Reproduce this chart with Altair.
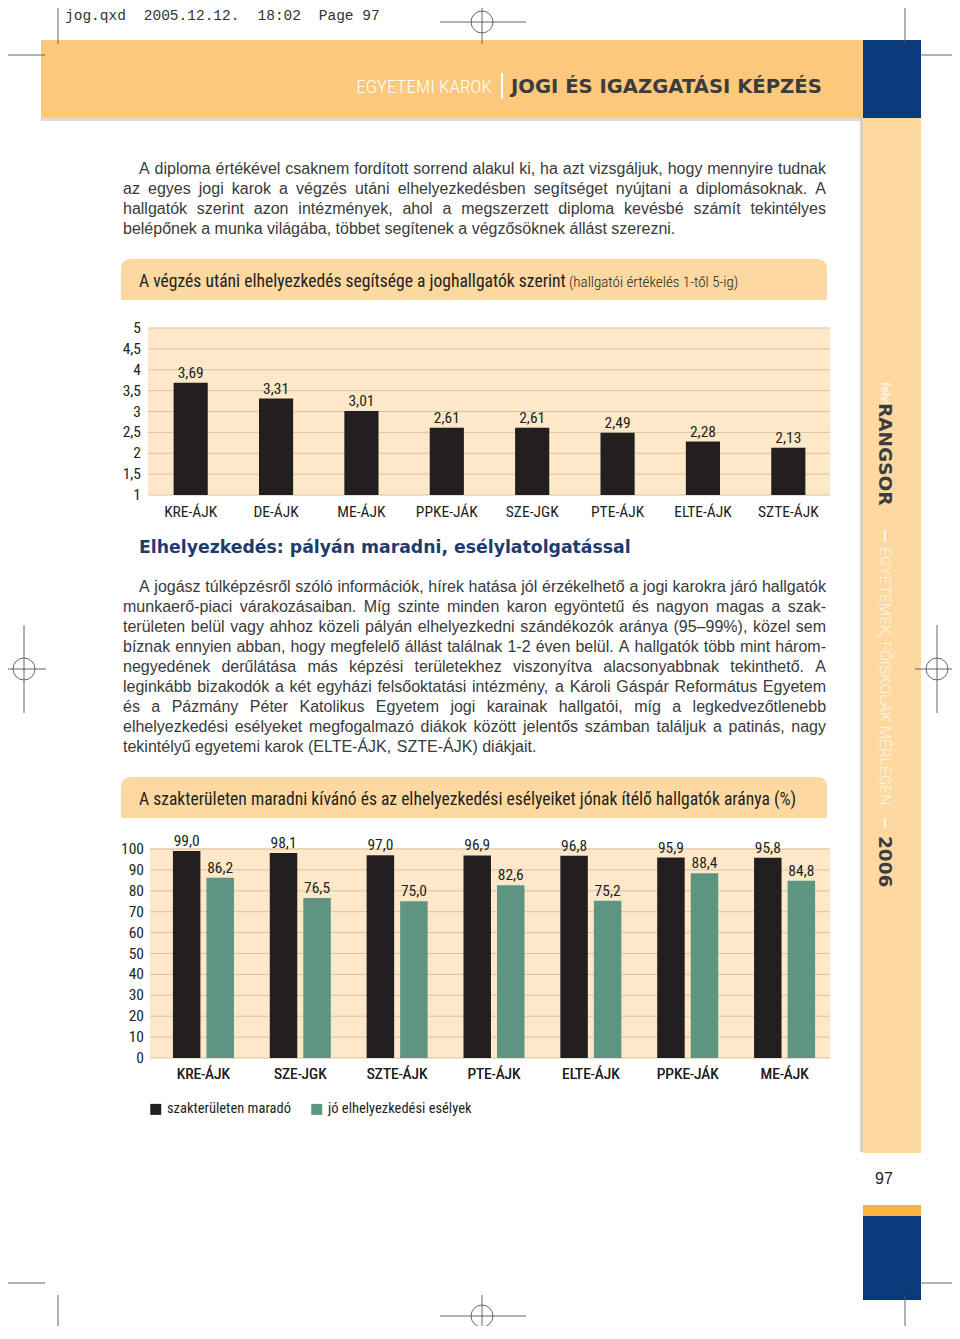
import altair as alt
import pandas as pd

# ---------------- values read from the page ----------------
chart1_schools = ["KRE-ÁJK", "DE-ÁJK", "ME-ÁJK", "PPKE-JÁK", "SZE-JGK", "PTE-ÁJK", "ELTE-ÁJK", "SZTE-ÁJK"]
chart1_values = [3.69, 3.31, 3.01, 2.61, 2.61, 2.49, 2.28, 2.13]
chart1_ticks = [1, 1.5, 2, 2.5, 3, 3.5, 4, 4.5, 5]

chart2_schools = ["KRE-ÁJK", "SZE-JGK", "SZTE-ÁJK", "PTE-ÁJK", "ELTE-ÁJK", "PPKE-JÁK", "ME-ÁJK"]
chart2_stay = [99.0, 98.1, 97.0, 96.9, 96.8, 95.9, 95.8]
chart2_chances = [86.2, 76.5, 75.0, 82.6, 75.2, 88.4, 84.8]
chart2_series = ["szakterületen maradó", "jó elhelyezkedési esélyek"]
chart2_ticks = [0, 10, 20, 30, 40, 50, 60, 70, 80, 90, 100]

slug_parts = ["jog.qxd", "2005.12.12.", "18:02", "Page 97"]
header_left = "EGYETEMI KAROK"
header_right = "JOGI ÉS IGAZGATÁSI KÉPZÉS"
side_parts = ["felvi", "RANGSOR", "EGYETEMEK, FŐISKOLÁK MÉRLEGEN", "2006"]
page_number = "97"
title1_main = "A végzés utáni elhelyezkedés segítsége a joghallgatók szerint"
title1_note = "(hallgatói értékelés 1-től 5-ig)"
title2 = "A szakterületen maradni kívánó és az elhelyezkedési esélyeiket jónak ítélő hallgatók aránya (%)"
subtitle = "Elhelyezkedés: pályán maradni, esélylatolgatással"
para1 = [
    "A diploma értékével csaknem fordított sorrend alakul ki, ha azt vizsgáljuk, hogy mennyire tudnak",
    "az egyes jogi karok a végzés utáni elhelyezkedésben segítséget nyújtani a diplomásoknak. A",
    "hallgatók szerint azon intézmények, ahol a megszerzett diploma kevésbé számít tekintélyes",
    "belépőnek a munka világába, többet segítenek a végzősöknek állást szerezni.",
]
para2 = [
    "A jogász túlképzésről szóló információk, hírek hatása jól érzékelhető a jogi karokra járó hallgatók",
    "munkaerő-piaci várakozásaiban. Míg szinte minden karon egyöntetű és nagyon magas a szak-",
    "területen belül vagy ahhoz közeli pályán elhelyezkedni szándékozók aránya (95–99%), közel sem",
    "bíznak ennyien abban, hogy megfelelő állást találnak 1-2 éven belül. A hallgatók több mint három-",
    "negyedének derűlátása más képzési területekhez viszonyítva alacsonyabbnak tekinthető. A",
    "leginkább bizakodók a két egyházi felsőoktatási intézmény, a Károli Gáspár Református Egyetem",
    "és a Pázmány Péter Katolikus Egyetem jogi karainak hallgatói, míg a legkedvezőtlenebb",
    "elhelyezkedési esélyeket megfogalmazó diákok között jelentős számban találjuk a patinás, nagy",
    "tekintélyű egyetemi karok (ELTE-ÁJK, SZTE-ÁJK) diákjait.",
]

# ---------------- styles ----------------
W, H = 944, 1318
COND = "Roboto Condensed, Liberation Sans Narrow, Roboto, sans-serif"
SANS = "Liberation Sans, Arial, sans-serif"
WIDE = "DejaVu Sans, Verdana, sans-serif"
MONO = "Liberation Mono, Courier New, monospace"
LIGHT = "Roboto, Liberation Sans, sans-serif"
INK = "#231F20"
GRID = "#D8C3A0"
PLOT_BG = "#FDE9C9"
BAND = "#FCC87B"
SIDE = "#FDD9A1"
BLUE = "#0B3A7B"
GREEN = "#5E9482"
BOX = "#FDD8A1"
LBL = 15.5


def P(v):
    return v - 8


# Arial / Liberation Sans advance widths (1/1000 em) for justified text
AW = {" ": 278, ",": 278, ".": 278, "-": 333, "(": 333, ")": 333, "%": 889, "–": 556, ":": 278,
      "f": 278, "i": 222, "j": 222, "l": 222, "r": 333, "t": 278, "c": 500, "k": 500, "s": 500,
      "v": 500, "x": 500, "y": 500, "z": 500, "m": 833, "w": 722, "í": 278,
      "A": 667, "Á": 667, "B": 667, "C": 722, "D": 722, "E": 667, "É": 667, "F": 611, "G": 778,
      "H": 722, "I": 278, "J": 500, "K": 667, "L": 556, "M": 833, "N": 722, "O": 778, "P": 667,
      "R": 722, "S": 667, "T": 611, "U": 722, "V": 667, "Z": 611}


def tw(s, fs):
    return sum(AW.get(ch, 556) for ch in s) * fs / 1000.0


def justified(lines, x_first, x_left, x_right, base0, lh, fs):
    rows = []
    for i, line in enumerate(lines):
        words = line.split(" ")
        xs = x_first if i == 0 else x_left
        widths = [tw(w, fs) for w in words]
        if i == len(lines) - 1 or len(words) < 2:
            gap = tw(" ", fs)
        else:
            gap = (x_right - xs - sum(widths)) / (len(words) - 1)
        x = xs
        for w, wd in zip(words, widths):
            rows.append((x, base0 + i * lh, w))
            x += wd + gap
    return rows


def rect_layer(rows, **kw):
    df = pd.DataFrame(rows, columns=["x0", "y0", "x1", "y1", "c"])
    for c in ["x0", "y0", "x1", "y1"]:
        df[c] = df[c] - 8
    return alt.Chart(df).mark_rect(**kw).encode(
        x=alt.X("x0:Q", scale=None, axis=None), x2="x1:Q",
        y=alt.Y("y0:Q", scale=None, axis=None), y2="y1:Q",
        fill=alt.Fill("c:N", scale=None))


def rule_layer(rows, color, width=1.0):
    df = pd.DataFrame(rows, columns=["x0", "y0", "x1", "y1"]) - 8
    return alt.Chart(df).mark_rule(color=color, strokeWidth=width).encode(
        x=alt.X("x0:Q", scale=None, axis=None), x2="x1:Q",
        y=alt.Y("y0:Q", scale=None, axis=None), y2="y1:Q")


def text_layer(rows, **kw):
    df = pd.DataFrame(rows, columns=["x", "y", "t"])
    df["x"] = df["x"] - 8
    df["y"] = df["y"] - 8
    return alt.Chart(df).mark_text(**kw).encode(
        x=alt.X("x:Q", scale=None, axis=None),
        y=alt.Y("y:Q", scale=None, axis=None), text="t:N")


# ---------------- page decoration ----------------
rects = rect_layer([
    (41, 118, 862, 121, "#E2DAD0"),      # header shadow
    (41, 40, 863, 118, BAND),            # header band
    (863, 40, 921, 118, BLUE),           # sidebar top block
    (860, 118, 863, 1152, "#D9D1C4"),    # sidebar shadow
    (863, 118, 921, 1153, SIDE),         # sidebar
    (863, 1205, 921, 1216, "#F8B240"),   # orange strip
    (863, 1216, 921, 1300, BLUE),        # sidebar bottom block
    (148, 328, 830, 495, PLOT_BG),       # chart 1 plot area
    (150, 848, 830, 1058, PLOT_BG),      # chart 2 plot area
    (501, 73, 503, 99, "#FFFFFF"),       # header divider
])
boxes = rect_layer([
    (121, 259, 827, 300, BOX),
    (121, 777, 827, 818, BOX),
], cornerRadiusTopLeft=9, cornerRadiusTopRight=9)

crop = rule_layer([
    (58, 0, 58, 44), (905, 0, 905, 44), (0, 55, 45, 55), (920, 55, 960, 55),
    (440, 22, 526, 22), (482, 0, 482, 44),
    (0, 669, 46, 669), (24, 625, 24, 713), (915, 669, 960, 669), (937, 625, 937, 713),
    (58, 1295, 58, 1339), (905, 1295, 905, 1339), (0, 1283, 45, 1283), (920, 1283, 960, 1283),
    (440, 1316, 526, 1316), (482, 1295, 482, 1339),
], "#555555", 0.9)
marks_df = pd.DataFrame({"x": [P(482), P(24), P(937), P(482)], "y": [P(22), P(669), P(669), P(1316)]})
circles = alt.Chart(marks_df).mark_point(shape="circle", filled=False, size=480, color="#555555",
                                         strokeWidth=0.9, opacity=1).encode(
    x=alt.X("x:Q", scale=None, axis=None), y=alt.Y("y:Q", scale=None, axis=None))

side_bars = rule_layer([(885, 530, 885, 542), (885, 818, 885, 828)], "#FFFFFF", 1.5)

slug = text_layer([(65, 20, slug_parts[0]), (65 + 9 * 8.75, 20, slug_parts[1]),
                   (65 + 22 * 8.75, 20, slug_parts[2]), (65 + 29 * 8.75, 20, slug_parts[3])],
                  font=MONO, fontSize=14.5, color="#333333", align="left", baseline="alphabetic")
head_l = text_layer([(492, 93, header_left)], font=COND, fontSize=19, fontWeight=300, color="#FFFFFF",
                    align="right", baseline="alphabetic")
head_r = text_layer([(511, 93, header_right)], font=WIDE, fontSize=19.6, fontWeight="bold",
                    color="#3C3C3C", align="left", baseline="alphabetic")
side_felvi = text_layer([(885, 382, side_parts[0])], font=LIGHT, fontSize=12, fontWeight="bold",
                        color="#FFF4E2", align="left", baseline="middle", angle=90)
side_light = text_layer([(885, 547, side_parts[2])], font=LIGHT,
                        fontSize=15.5, fontWeight=300, color="#FFF6E6", align="left", baseline="middle", angle=90)
side_bold = text_layer([(885, 403, side_parts[1]), (885, 836, side_parts[3])], font=WIDE,
                       fontSize=18.5, fontWeight="bold", color="#3C3C3C", align="left", baseline="middle", angle=90)
pnum = text_layer([(884, 1184, page_number)], font=SANS, fontSize=16, color=INK, align="center",
                  baseline="alphabetic")

para_rows = justified(para1, 139, 123, 826, 174, 20, 16) + justified(para2, 139, 123, 826, 592, 20, 16)
paras = text_layer(para_rows, font=SANS, fontSize=16, color="#3A3A3A", align="left", baseline="alphabetic")

t_main = text_layer([(139, 287, title1_main), (139, 805, title2)], font=COND, fontSize=17.6,
                    color=INK, align="left", baseline="alphabetic")
t_note = text_layer([(569, 287, title1_note)], font=COND, fontSize=15, fontWeight=300, color=INK,
                    align="left", baseline="alphabetic")
sub = text_layer([(139, 553, subtitle)], font=WIDE, fontSize=17.3, fontWeight="bold", color="#1C3C70",
                 align="left", baseline="alphabetic")

# ---------------- chart 1 ----------------
df1 = pd.DataFrame({"school": chart1_schools, "value": chart1_values})
t1 = pd.DataFrame({"tick": chart1_ticks})
x1s = alt.Scale(domain=chart1_schools, range=[P(148), P(831)], paddingInner=0.6, paddingOuter=0.3)
y1s = alt.Scale(domain=[1, 5], range=[P(495), P(328)], nice=False, zero=False)
grid1 = alt.Chart(t1).mark_rule(color=GRID, strokeWidth=1).encode(
    y=alt.Y("tick:Q", scale=y1s, axis=None), x=alt.value(P(148)), x2=alt.value(P(830)))
ylab1 = alt.Chart(t1).transform_calculate(
    lbl="replace(format(datum.tick, '.1~f'), '.', ',')").mark_text(
    font=COND, fontSize=LBL, color=INK, align="right", baseline="middle").encode(
    y=alt.Y("tick:Q", scale=y1s, axis=None), x=alt.value(P(141)), text="lbl:N")
bars1 = alt.Chart(df1).mark_bar(color=INK).encode(
    x=alt.X("school:N", sort=None, scale=x1s, axis=None),
    y=alt.Y("value:Q", scale=y1s, axis=None), y2=alt.datum(1))
xlab1 = alt.Chart(df1).mark_text(font=COND, fontSize=LBL, color=INK, baseline="alphabetic").encode(
    x=alt.X("school:N", sort=None, scale=x1s, axis=None), y=alt.value(P(517)), text="school:N")
lab1 = alt.Chart(df1).transform_calculate(
    lbl="replace(format(datum.value, '.2f'), '.', ',')").mark_text(
    font=COND, fontSize=LBL, color=INK, baseline="alphabetic", dy=-5).encode(
    x=alt.X("school:N", sort=None, scale=x1s, axis=None),
    y=alt.Y("value:Q", scale=y1s, axis=None), text="lbl:N")
chart1 = alt.layer(grid1, ylab1, bars1, xlab1, lab1)

# ---------------- chart 2 ----------------
rows2 = []
for s, a, b in zip(chart2_schools, chart2_stay, chart2_chances):
    rows2.append({"school": s, "series": chart2_series[0], "value": a})
    rows2.append({"school": s, "series": chart2_series[1], "value": b})
df2 = pd.DataFrame(rows2)
t2 = pd.DataFrame({"tick": chart2_ticks})
x2s = alt.Scale(domain=chart2_schools, range=[P(155), P(833)], paddingInner=0.37, paddingOuter=0.185)
o2s = alt.Scale(domain=chart2_series, paddingInner=0.18, paddingOuter=0)
y2s = alt.Scale(domain=[0, 100], range=[P(1058), P(849)], nice=False, zero=True)
grid2 = alt.Chart(t2).mark_rule(color=GRID, strokeWidth=1).encode(
    y=alt.Y("tick:Q", scale=y2s, axis=None), x=alt.value(P(150)), x2=alt.value(P(830)))
ylab2 = alt.Chart(t2).mark_text(font=COND, fontSize=LBL, color=INK, align="right", baseline="middle").encode(
    y=alt.Y("tick:Q", scale=y2s, axis=None), x=alt.value(P(144)), text="tick:Q")
bars2 = alt.Chart(df2).mark_bar().encode(
    x=alt.X("school:N", sort=None, scale=x2s, axis=None),
    xOffset=alt.XOffset("series:N", sort=None, scale=o2s),
    y=alt.Y("value:Q", scale=y2s, axis=None),
    color=alt.Color("series:N", sort=None,
                    scale=alt.Scale(domain=chart2_series, range=[INK, GREEN]),
                    legend=alt.Legend(orient="none", legendX=P(148.5), legendY=P(1102),
                                      direction="horizontal", title=None, symbolType="square",
                                      symbolSize=121, symbolStrokeWidth=0, symbolOpacity=1,
                                      labelFont=COND, labelFontSize=14.5, labelColor=INK,
                                      labelLimit=400, labelOffset=4, columnPadding=18, padding=0)))
xlab2 = alt.Chart(df2).mark_text(font=COND, fontSize=LBL, color=INK, baseline="alphabetic").encode(
    x=alt.X("school:N", sort=None, scale=x2s, axis=None), y=alt.value(P(1079)), text="school:N")
lab2 = alt.Chart(df2).transform_calculate(
    lbl="replace(format(datum.value, '.1f'), '.', ',')").mark_text(
    font=COND, fontSize=LBL, color=INK, baseline="alphabetic", dy=-5).encode(
    x=alt.X("school:N", sort=None, scale=x2s, axis=None),
    xOffset=alt.XOffset("series:N", sort=None, scale=o2s),
    y=alt.Y("value:Q", scale=y2s, axis=None), text="lbl:N")
chart2 = alt.layer(grid2, ylab2, bars2, xlab2, lab2)

chart = alt.layer(
    rects, boxes, crop, circles, side_bars, chart1, chart2,
    slug, head_l, head_r, side_felvi, side_light, side_bold, pnum, paras, t_main, t_note, sub,
).resolve_scale(x="independent", y="independent").properties(
    width=W, height=H, padding=0, background="#FFFFFF",
    autosize=alt.AutoSizeParams(type="none"),
).configure_view(stroke=None)

chart.save("out.html", embed_options={"renderer": "svg", "actions": False})
